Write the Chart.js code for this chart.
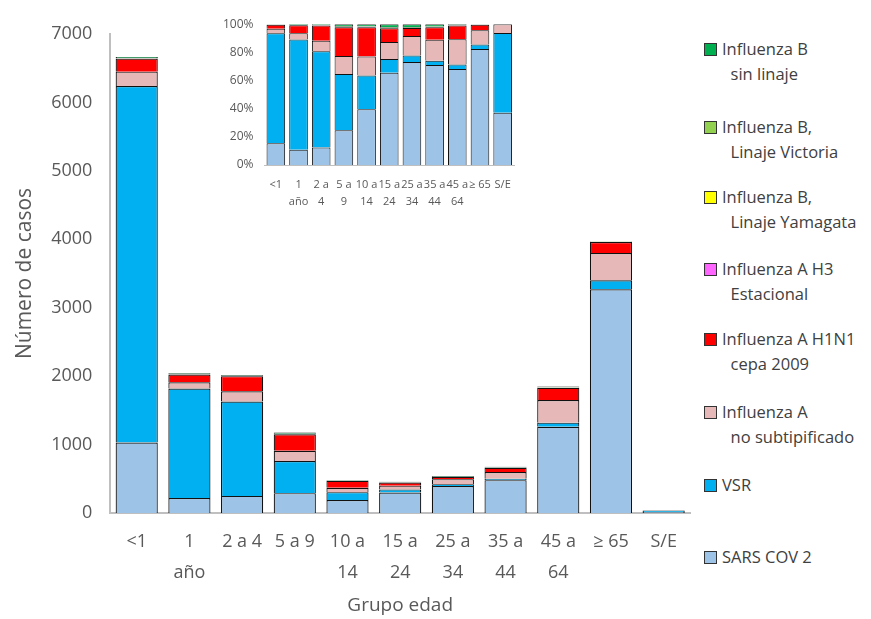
<!DOCTYPE html>
<html><head><meta charset="utf-8">
<script src="https://cdn.jsdelivr.net/npm/chart.js@4/dist/chart.umd.min.js"></script>
<style>
body{margin:0;background:#fff;font-family:"Open Sans",sans-serif;}
#wrap{position:relative;width:871px;height:619px;}
#main{position:absolute;left:0;top:0;}
#inset{position:absolute;left:220px;top:14px;}
#legend{position:absolute;left:700px;top:0;font-size:16.5px;color:#404040;line-height:25px;}
.it{position:absolute;left:0;white-space:nowrap;}
.sw{position:absolute;left:4px;top:7px;width:11px;height:11px;border:1px solid #333;}
.tx{position:absolute;left:22px;top:0;}
</style></head><body>
<div id="wrap">
<canvas id="main" width="700" height="619"></canvas>
<canvas id="inset" width="300" height="200"></canvas>
<div id="legend"></div>
</div>
<script>
const categories=[["<1"],["1","año"],["2 a 4"],["5 a 9"],["10 a","14"],["15 a","24"],["25 a","34"],["35 a","44"],["45 a","64"],["≥ 65"],["S/E"]];
const insetLabels=[["<1"],["1","año"],["2 a","4"],["5 a","9"],["10 a","14"],["15 a","24"],["25 a","34"],["35 a","44"],["45 a","64"],["≥ 65"],["S/E"]];
const sarsCov2=[1030,220,250,290,190,300,395,480,1260,3270,15];
const vsr=[5210,1600,1380,470,115,45,25,20,60,130,23];
const infANoSub=[210,90,150,150,65,55,75,100,330,400,2.5];
const h1n1=[190,115,220,240,100,45,30,60,180,160,0];
const h3=[2,1,1,1,1,0,0,1,2,2,0];
const yamagata=[1,1,1,1,0,0,0,0,1,1,0];
const victoria=[5,3,3,5,2,3,3,3,3,3,0];
const sinLinaje=[15,12,12,18,7,10,12,11,12,7,0];
const yTicks=[0,1000,2000,3000,4000,5000,6000,7000];

const series=[
 {name:"SARS COV 2",lab:["SARS COV 2"],data:sarsCov2,color:"#9DC3E6"},
 {name:"VSR",lab:["VSR"],data:vsr,color:"#00B0F0"},
 {name:"InfA",lab:["Influenza A","  no subtipificado"],data:infANoSub,color:"#E6B8B7"},
 {name:"H1N1",lab:["Influenza A H1N1","  cepa 2009"],data:h1n1,color:"#FF0000"},
 {name:"H3",lab:["Influenza A H3","  Estacional"],data:h3,color:"#FF66FF"},
 {name:"Yam",lab:["Influenza B,","  Linaje Yamagata"],data:yamagata,color:"#FFFF00"},
 {name:"Vic",lab:["Influenza B,","  Linaje Victoria"],data:victoria,color:"#92D050"},
 {name:"Sin",lab:["Influenza B","  sin linaje"],data:sinLinaje,color:"#00B050"}
];
const totals=sarsCov2.map((_,i)=>series.reduce((s,x)=>s+x.data[i],0));
const F="'Open Sans', sans-serif";
const tc="#595959";
new Chart(document.getElementById('main'),{type:'bar',
 data:{labels:categories,datasets:series.map(s=>({label:s.name,data:s.data,backgroundColor:s.color,borderColor:"#111",borderWidth:1.2,categoryPercentage:1,barPercentage:0.8}))},
 options:{responsive:false,animation:false,
  layout:{padding:{left:8,right:10,top:34,bottom:0}},
  plugins:{legend:{display:false},tooltip:{enabled:false}},
  scales:{
   x:{stacked:true,grid:{display:false},border:{color:"#bfbfbf",width:2},ticks:{color:tc,font:{family:F,size:18,lineHeight:1.7},maxRotation:0,padding:6},
      title:{display:true,text:"Grupo edad",color:tc,font:{family:F,size:19},padding:{top:0,bottom:2}}},
   y:{stacked:true,min:0,max:7000,grid:{display:false},border:{color:"#bfbfbf",width:2},
      afterBuildTicks:a=>{a.ticks=yTicks.map(v=>({value:v}));},
      ticks:{color:tc,font:{family:F,size:18},padding:10,callback:v=>String(v)},
      title:{display:true,text:"Número de casos",color:tc,font:{family:F,size:21}}}
  }}});
new Chart(document.getElementById('inset'),{type:'bar',
 data:{labels:insetLabels,datasets:series.map(s=>({label:s.name,data:s.data.map((v,i)=>v/totals[i]*100),backgroundColor:s.color,borderColor:"#111",borderWidth:1,categoryPercentage:1,barPercentage:0.82}))},
 options:{responsive:false,animation:false,
  layout:{padding:{right:6,top:4}},
  plugins:{legend:{display:false},tooltip:{enabled:false}},
  scales:{
   x:{stacked:true,grid:{display:false},border:{color:"#bfbfbf"},ticks:{color:tc,font:{family:F,size:11,lineHeight:1.5},maxRotation:0,padding:4,autoSkip:false}},
   y:{stacked:true,min:0,max:100,grid:{display:false},border:{display:false},ticks:{stepSize:20,color:tc,font:{family:F,size:12},callback:v=>v+"%"}}
  }}});
const lg=document.getElementById('legend');
const tops=[36,114,184,256,326,399,472,544].reverse();
series.forEach((s,i)=>{
 const d=document.createElement('div');d.className='it';d.style.top=tops[i]+'px';
 d.innerHTML='<div class="sw" style="background:'+s.color+'"></div><div class="tx">'+s.lab.join('<br>').replace(/  /g,'&nbsp;&nbsp;')+'</div>';
 lg.appendChild(d);
});
</script></body></html>
